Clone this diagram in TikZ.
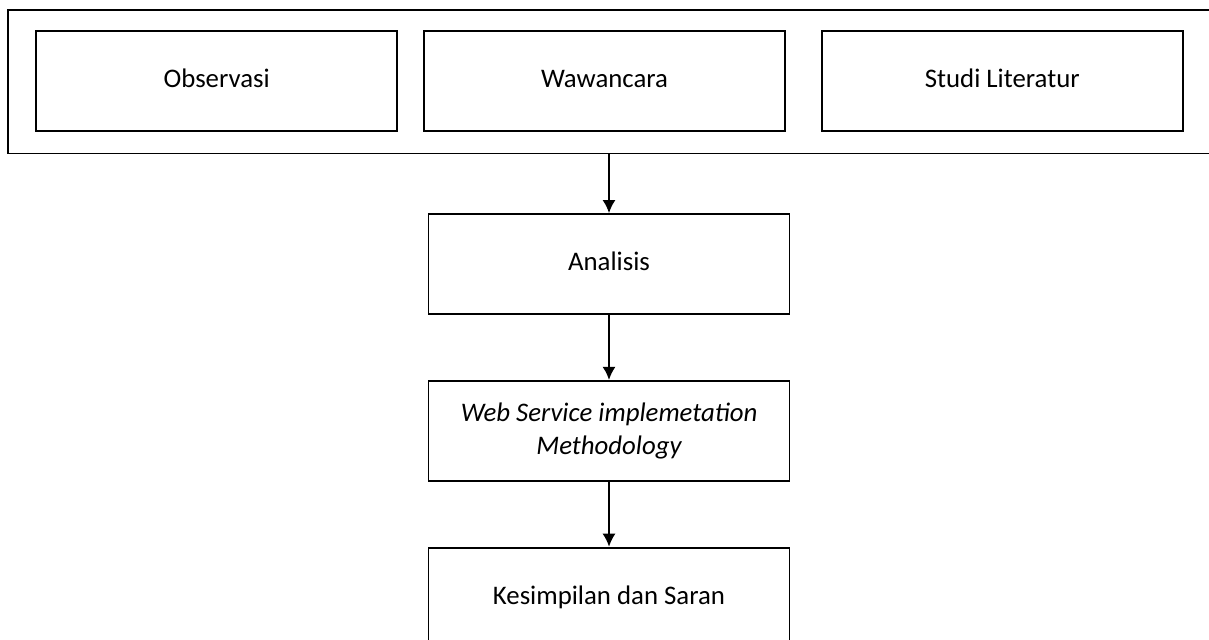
\documentclass[tikz,border=0pt]{standalone}
\usepackage{fontspec}
\setmainfont{Carlito}
\usetikzlibrary{arrows.meta,positioning}

\begin{document}
\begin{tikzpicture}[
    x=0.5pt, y=-0.5pt,
    node distance=32.5pt,
    >={Latex[length=6.5pt,width=6.5pt]},
    line width=0.9pt,
    every node/.style={font=\fontsize{13.4}{16.5}\selectfont},
    box/.style={
        rectangle,
        draw=black,
        align=center,
        minimum width=180.5pt,
        minimum height=50pt,
        text height=0.64em,
        text depth=0pt,
        inner sep=0pt
    },
    twoline/.style={text height={}, text depth={}},
    group/.style={
        rectangle,
        draw=black,
        minimum width=603.5pt,
        minimum height=71.75pt,
        inner sep=0pt
    },
    flow/.style={->, draw=black}
]
\useasboundingbox (0,0) rectangle (1209,639);

% data collection
\node[group] (kumpul) at (611.5,81.75) {};
\node[box] (wawancara) at (604.5,81) {Wawancara};
\node[box, left=12.5pt of wawancara] (observasi) {Observasi};
\node[box, right=17.5pt of wawancara] (studi) {Studi Literatur};

% main steps
\node[box] (analisis) at (609,264) {Analisis};
\node[box, twoline, below=of analisis] (wsim) {\itshape Web Service implemetation\\ \itshape Methodology};
\node[box, below=of wsim] (saran) {Kesimpilan dan Saran};

\draw[flow] (kumpul.south -| analisis.north) -- (analisis.north);
\draw[flow] (analisis) -- (wsim);
\draw[flow] (wsim) -- (saran);

\end{tikzpicture}
\end{document}
